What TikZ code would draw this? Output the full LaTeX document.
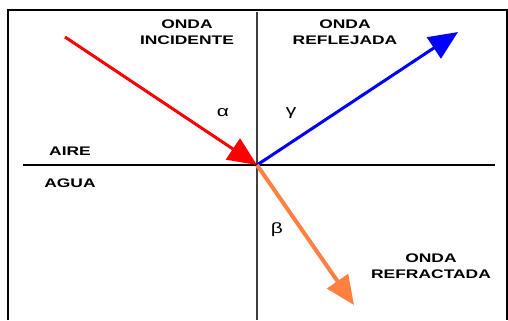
\documentclass[tikz,border=0pt]{standalone}
\usepackage{fontspec}
\usepackage{tikz}
\usetikzlibrary{arrows.meta}
\newfontfamily\lblfont[FakeStretch=1.4]{Liberation Sans}
\definecolor{rayred}{RGB}{255,0,0}
\definecolor{rayblue}{RGB}{0,0,255}
\definecolor{rayorange}{RGB}{255,128,64}

\begin{document}
\begin{tikzpicture}[
	x=1bp, y=-1bp,
	lbl/.style={align=center, inner sep=0pt, font=\lblfont\bfseries\fontsize{12.5}{16}\selectfont},
	ang/.style={inner sep=0pt, font=\lblfont\fontsize{15}{15}\selectfont},
	ray/.style={-{Triangle[length=29bp, width=25bp]}, line width=3bp}
	]
	\useasboundingbox (0,0) rectangle (508,320);
	% frame and axes
	\draw[line width=1.5bp] (8,320) -- (8,10) -- (507,10) -- (507,320);
	\coordinate (n1) at (257,12);
	\coordinate (n2) at (257,320);
	\coordinate (s1) at (23,165);
	\coordinate (s2) at (495,165);
	\draw[line width=1.5bp, black!75] (n1) -- (n2);
	\draw[line width=2.5bp] (s1) -- (s2);
	% rays
	\coordinate (o) at (257,165);
	\coordinate (inc) at (65,37);
	\coordinate (refl) at (458,32);
	\coordinate (refr) at (354,305);
	\draw[ray, rayred] (inc) -- (o);
	\draw[ray, rayblue] (o) -- (refl);
	\draw[ray, rayorange, line width=4bp] (o) -- (refr);
	% labels
	\node[lbl] (li) at (187,32) {ONDA\\INCIDENTE};
	\node[lbl] (lr) at (345,32) {ONDA\\REFLEJADA};
	\node[lbl] (lt) at (431,266) {ONDA\\REFRACTADA};
	\node[lbl] (aire) at (70,151) {AIRE};
	\node[lbl] (agua) at (70,183) {AGUA};
	\node[ang] (alpha) at (223,113) {α};
	\node[ang] (gamma) at (291,113) {γ};
	\node[ang] (beta) at (277,230) {β};
\end{tikzpicture}
\end{document}
